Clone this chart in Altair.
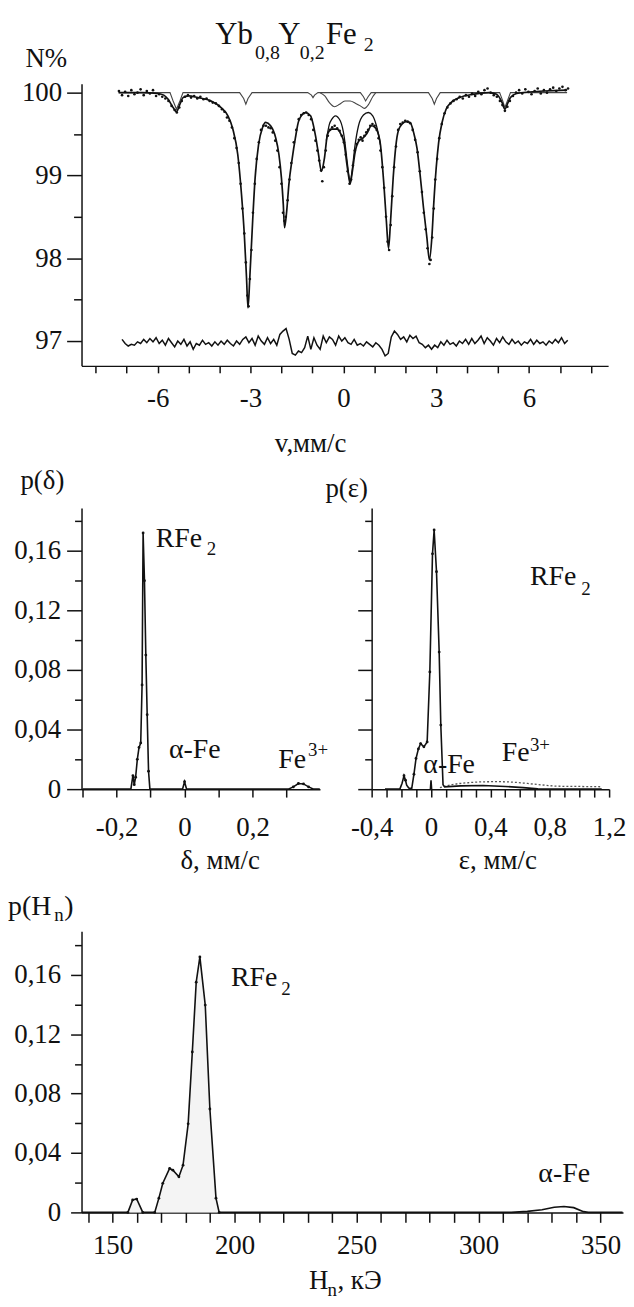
import altair as alt
import pandas as pd

FONT = "Liberation Serif"
INK = "#111111"

# ---------------- top panel: Mossbauer spectrum ----------------
FIT = [(-7.26, 100.0), (-6.5, 100.0), (-6.0, 99.99), (-5.8, 99.97), (-5.66, 99.92), (-5.5, 99.82),
       (-5.39, 99.77), (-5.28, 99.86), (-5.18, 99.94), (-5.0, 99.96), (-4.7, 99.94), (-4.27, 99.90),
       (-3.95, 99.82), (-3.73, 99.72), (-3.57, 99.56), (-3.41, 99.25), (-3.29, 98.77), (-3.20, 98.29),
       (-3.13, 97.78), (-3.08, 97.40), (-3.02, 97.78), (-2.93, 98.45), (-2.85, 98.97), (-2.74, 99.37),
       (-2.61, 99.58), (-2.51, 99.64), (-2.35, 99.60), (-2.19, 99.46), (-2.08, 99.25), (-2.00, 98.97),
       (-1.94, 98.65), (-1.90, 98.37), (-1.83, 98.57), (-1.76, 98.89), (-1.65, 99.21), (-1.55, 99.45),
       (-1.44, 99.66), (-1.22, 99.76), (-1.06, 99.72), (-0.90, 99.48), (-0.80, 99.25), (-0.71, 99.05),
       (-0.61, 99.21), (-0.51, 99.50), (-0.37, 99.56), (-0.21, 99.56), (-0.08, 99.50), (0.03, 99.38),
       (0.11, 99.15), (0.19, 98.95), (0.22, 98.90), (0.28, 99.02), (0.38, 99.28), (0.49, 99.41),
       (0.63, 99.45), (0.75, 99.50), (0.91, 99.60), (1.02, 99.58), (1.07, 99.56), (1.20, 99.37),
       (1.31, 98.89), (1.39, 98.45), (1.46, 98.12), (1.52, 98.41), (1.61, 98.97), (1.71, 99.40),
       (1.82, 99.58), (2.04, 99.65), (2.16, 99.64), (2.27, 99.52), (2.38, 99.33), (2.48, 99.01),
       (2.59, 98.61), (2.70, 98.25), (2.78, 97.98), (2.86, 98.25), (2.92, 98.65), (3.00, 99.09),
       (3.08, 99.40), (3.19, 99.64), (3.32, 99.80), (3.48, 99.88), (3.75, 99.94), (4.18, 99.98),
       (4.71, 100.0), (4.95, 99.98), (5.13, 99.88), (5.22, 99.80), (5.32, 99.88), (5.40, 99.94),
       (5.6, 99.99), (6.5, 100.02), (7.23, 100.03)]

RFE_PART = [(-0.55, 99.42), (-0.45, 99.62), (-0.37, 99.68), (-0.26, 99.72), (-0.10, 99.66),
            (0.03, 99.46), (0.11, 99.21), (0.19, 98.97), (0.22, 98.91), (0.28, 99.05), (0.38, 99.37),
            (0.49, 99.60), (0.65, 99.73), (0.81, 99.76), (0.95, 99.72), (1.07, 99.60), (1.20, 99.37)]

ALPHA_FE = [(-7.26, 100.0), (-5.6, 100.0), (-5.5, 99.9), (-5.39, 99.8), (-5.28, 99.9), (-5.18, 100.0),
            (-3.35, 100.0), (-3.22, 99.93), (-3.15, 99.86), (-3.08, 99.93), (-2.95, 100.0),
            (-1.15, 100.0), (-1.03, 99.97), (-0.98, 99.94), (-0.93, 99.97), (-0.82, 100.0),
            (0.55, 100.0), (0.65, 99.95), (0.72, 99.9), (0.80, 99.95), (0.9, 100.0),
            (2.75, 100.0), (2.87, 99.93), (2.94, 99.86), (3.01, 99.93), (3.13, 100.0),
            (5.05, 100.0), (5.15, 99.9), (5.22, 99.82), (5.30, 99.9), (5.40, 100.0), (7.23, 100.0)]

DOUBLET = [(-0.75, 100.0), (-0.6, 99.96), (-0.45, 99.88), (-0.28, 99.83), (-0.12, 99.86), (0.05, 99.9),
           (0.22, 99.9), (0.4, 99.87), (0.55, 99.84), (0.68, 99.81), (0.82, 99.86), (0.95, 99.95),
           (1.05, 100.0)]

DOTS = [(-7.25, 100.02), (-7.15, 99.97), (-7.05, 100.01), (-6.95, 99.96), (-6.85, 100.03), (-6.75, 99.98),
        (-6.65, 100.0), (-6.55, 100.04), (-6.45, 99.97), (-6.35, 100.02), (-6.25, 99.99), (-6.15, 100.03),
        (-6.05, 99.96), (-5.95, 99.98), (-5.85, 99.95), (-5.75, 99.93), (-5.65, 99.9), (-5.55, 99.84),
        (-5.45, 99.79), (-5.38, 99.76), (-5.3, 99.82), (-5.22, 99.9), (-5.12, 99.95), (-5.02, 99.97),
        (-4.92, 99.94), (-4.82, 99.96), (-4.72, 99.93), (-4.62, 99.95), (-4.52, 99.92), (-4.42, 99.93),
        (-4.32, 99.9), (-4.22, 99.88), (-4.12, 99.87), (-4.02, 99.84), (-3.92, 99.8), (-3.84, 99.77),
        (-3.76, 99.7), (-3.68, 99.66), (-3.6, 99.58), (-3.52, 99.45), (-3.45, 99.33), (-3.38, 99.15),
        (-3.32, 98.9), (-3.26, 98.6), (-3.2, 98.3), (-3.15, 97.95), (-3.1, 97.55), (-3.06, 97.42),
        (-3.02, 97.75), (-2.97, 98.1), (-2.92, 98.55), (-2.86, 98.9), (-2.8, 99.2), (-2.73, 99.4),
        (-2.66, 99.55), (-2.58, 99.6), (-2.5, 99.6), (-2.42, 99.58), (-2.35, 99.57), (-2.28, 99.52),
        (-2.2, 99.42), (-2.13, 99.3), (-2.06, 99.1), (-2.0, 98.9), (-1.95, 98.55), (-1.9, 98.45),
        (-1.86, 98.5), (-1.8, 98.7), (-1.74, 98.95), (-1.68, 99.15), (-1.6, 99.4), (-1.52, 99.55),
        (-1.44, 99.68), (-1.36, 99.73), (-1.28, 99.75), (-1.2, 99.76), (-1.12, 99.73), (-1.04, 99.68),
        (-0.97, 99.55), (-0.9, 99.42), (-0.84, 99.3), (-0.78, 99.18), (-0.72, 99.06), (-0.68, 98.93),
        (-0.63, 99.1), (-0.57, 99.3), (-0.5, 99.48), (-0.43, 99.55), (-0.36, 99.58), (-0.28, 99.6),
        (-0.2, 99.57), (-0.12, 99.54), (-0.05, 99.48), (0.02, 99.4), (0.08, 99.25), (0.14, 99.05),
        (0.2, 98.9), (0.25, 98.95), (0.31, 99.12), (0.37, 99.3), (0.44, 99.38), (0.5, 99.43),
        (0.56, 99.46), (0.62, 99.42), (0.68, 99.48), (0.74, 99.52), (0.8, 99.55), (0.87, 99.6),
        (0.94, 99.62), (1.01, 99.6), (1.08, 99.55), (1.14, 99.45), (1.2, 99.3), (1.26, 99.1),
        (1.32, 98.85), (1.38, 98.5), (1.43, 98.2), (1.48, 98.1), (1.53, 98.4), (1.58, 98.75),
        (1.64, 99.1), (1.7, 99.35), (1.77, 99.55), (1.84, 99.62), (1.92, 99.64), (2.0, 99.66),
        (2.08, 99.65), (2.16, 99.63), (2.24, 99.55), (2.32, 99.43), (2.4, 99.28), (2.47, 99.05),
        (2.54, 98.8), (2.6, 98.55), (2.66, 98.35), (2.72, 98.12), (2.78, 97.93), (2.82, 97.98),
        (2.87, 98.25), (2.92, 98.6), (2.97, 98.95), (3.03, 99.2), (3.1, 99.45), (3.18, 99.62),
        (3.27, 99.75), (3.36, 99.82), (3.46, 99.87), (3.56, 99.9), (3.66, 99.92), (3.76, 99.95),
        (3.86, 99.93), (3.96, 99.97), (4.06, 99.95), (4.16, 99.99), (4.26, 99.96), (4.36, 100.01),
        (4.46, 99.98), (4.56, 100.03), (4.66, 100.05), (4.76, 100.0), (4.86, 99.97), (4.96, 99.95),
        (5.06, 99.9), (5.14, 99.85), (5.22, 99.78), (5.3, 99.83), (5.38, 99.9), (5.48, 99.96),
        (5.58, 100.0), (5.68, 100.03), (5.78, 99.99), (5.88, 100.04), (5.98, 100.01), (6.08, 99.98),
        (6.18, 100.02), (6.28, 100.05), (6.38, 99.99), (6.48, 100.03), (6.58, 100.0), (6.68, 100.04),
        (6.78, 100.06), (6.88, 100.02), (6.98, 100.05), (7.08, 100.07), (7.18, 100.03), (7.26, 100.05)]

RESID = [(-7.15, 97.02), (-7.05, 96.97), (-6.95, 96.94), (-6.85, 96.96), (-6.75, 96.95), (-6.65, 96.99),
         (-6.55, 96.97), (-6.45, 97.02), (-6.35, 96.98), (-6.25, 97.03), (-6.15, 96.99), (-6.05, 97.04),
         (-5.95, 96.97), (-5.85, 97.01), (-5.75, 96.95), (-5.65, 97.03), (-5.55, 96.98), (-5.45, 96.93),
         (-5.35, 97.0), (-5.25, 96.96), (-5.15, 97.02), (-5.05, 96.94), (-4.95, 96.99), (-4.85, 96.9),
         (-4.75, 96.97), (-4.65, 96.95), (-4.55, 97.01), (-4.45, 96.96), (-4.35, 96.98), (-4.25, 96.94),
         (-4.15, 96.99), (-4.05, 96.95), (-3.95, 97.0), (-3.85, 96.96), (-3.75, 97.01), (-3.65, 96.97),
         (-3.55, 96.94), (-3.45, 97.0), (-3.35, 96.96), (-3.25, 97.02), (-3.15, 97.05), (-3.05, 96.98),
         (-2.95, 97.03), (-2.85, 96.95), (-2.75, 97.06), (-2.65, 97.0), (-2.55, 96.96), (-2.45, 97.04),
         (-2.35, 96.97), (-2.25, 97.02), (-2.15, 96.95), (-2.05, 97.08), (-1.95, 97.12), (-1.85, 97.15),
         (-1.75, 97.02), (-1.65, 96.85), (-1.55, 96.83), (-1.45, 96.88), (-1.35, 96.86), (-1.25, 96.92),
         (-1.15, 97.06), (-1.05, 96.9), (-0.95, 97.04), (-0.85, 96.95), (-0.75, 96.9), (-0.65, 97.06),
         (-0.55, 96.98), (-0.45, 97.05), (-0.35, 97.02), (-0.25, 96.95), (-0.15, 97.06), (-0.05, 97.0),
         (0.05, 97.04), (0.15, 96.98), (0.25, 96.96), (0.35, 97.02), (0.45, 96.95), (0.55, 96.97),
         (0.65, 96.94), (0.75, 96.99), (0.85, 96.96), (0.95, 96.93), (1.05, 96.98), (1.15, 96.95),
         (1.25, 96.9), (1.35, 96.82), (1.45, 96.85), (1.55, 97.05), (1.65, 97.12), (1.75, 97.08),
         (1.85, 97.02), (1.95, 97.05), (2.05, 96.99), (2.15, 97.07), (2.25, 97.03), (2.35, 97.06),
         (2.45, 96.98), (2.55, 96.96), (2.65, 96.92), (2.75, 96.95), (2.85, 96.9), (2.95, 96.95),
         (3.05, 96.92), (3.15, 96.99), (3.25, 96.95), (3.35, 97.01), (3.45, 96.96), (3.55, 96.98),
         (3.65, 96.94), (3.75, 97.0), (3.85, 96.97), (3.95, 97.02), (4.05, 96.96), (4.15, 97.03),
         (4.25, 96.97), (4.35, 97.01), (4.45, 97.06), (4.55, 96.97), (4.65, 97.04), (4.75, 97.0),
         (4.85, 96.95), (4.95, 97.03), (5.05, 96.98), (5.15, 97.05), (5.25, 96.99), (5.35, 96.96),
         (5.45, 97.02), (5.55, 96.97), (5.65, 97.0), (5.75, 96.95), (5.85, 96.99), (5.95, 96.97),
         (6.05, 97.02), (6.15, 96.96), (6.25, 97.01), (6.35, 96.97), (6.45, 96.99), (6.55, 96.95),
         (6.65, 97.0), (6.75, 96.97), (6.85, 97.02), (6.95, 96.98), (7.05, 97.04), (7.15, 96.97),
         (7.25, 97.01)]

V_TICKS = [-8, -7, -6, -5, -4, -3, -2, -1, 0, 1, 2, 3, 4, 5, 6, 7, 8]
N_TICKS = [97, 97.5, 98, 98.5, 99, 99.5, 100]

# ---------------- middle panels: p(delta), p(eps) ----------------
P_DELTA = [(-0.30, 0.0), (-0.158, 0.0), (-0.152, 0.009), (-0.148, 0.003), (-0.144, 0.008),
           (-0.139, 0.020), (-0.134, 0.028), (-0.129, 0.031), (-0.125, 0.07), (-0.122, 0.172),
           (-0.118, 0.14), (-0.114, 0.09), (-0.110, 0.05), (-0.106, 0.012), (-0.102, 0.0),
           (-0.006, 0.0), (0.0, 0.005), (0.006, 0.0), (0.305, 0.0), (0.32, 0.0015), (0.335, 0.0038),
           (0.35, 0.0035), (0.365, 0.0015), (0.38, 0.0), (0.398, 0.0)]
DELTA_TICKS = [-0.3, -0.2, -0.1, 0.0, 0.1, 0.2, 0.3, 0.4]

P_EPS = [(-0.31, 0.0), (-0.21, 0.0), (-0.195, 0.004), (-0.182, 0.009), (-0.172, 0.006), (-0.164, 0.0027),
         (-0.15, 0.0008), (-0.13, 0.0004), (-0.115, 0.01), (-0.101, 0.0206), (-0.085, 0.027),
         (-0.070, 0.0306), (-0.048, 0.0284), (-0.026, 0.0317), (-0.008, 0.0787), (0.010, 0.158),
         (0.021, 0.174), (0.037, 0.146), (0.055, 0.092), (0.066, 0.043), (0.081, 0.003), (0.092, 0.0015),
         (0.2, 0.0022), (0.35, 0.0024), (0.5, 0.0018), (0.62, 0.001), (0.72, 0.0002), (1.15, 0.0)]
EPS_ALPHA = [(-0.004, 0.0), (0.0, 0.006), (0.004, 0.0)]
EPS_FE3 = [(0.06, 0.001), (0.15, 0.0032), (0.25, 0.0043), (0.35, 0.0049), (0.45, 0.005), (0.55, 0.0047),
           (0.65, 0.0038), (0.75, 0.0028), (0.85, 0.002), (1.0, 0.0018), (1.15, 0.0016)]
EPS_TICKS = [-0.4, -0.3, -0.2, -0.1, 0.0, 0.1, 0.2, 0.3, 0.4, 0.5, 0.6, 0.7, 0.8, 0.9, 1.0, 1.1, 1.2]
P_TICKS = [0.0, 0.02, 0.04, 0.06, 0.08, 0.10, 0.12, 0.14, 0.16, 0.18]

# ---------------- bottom panel: p(Hn) ----------------
P_HN = [(137.5, 0.0), (156.3, 0.0), (158.25, 0.0084), (159.9, 0.009), (162.4, 0.0), (167.3, 0.0),
        (169.0, 0.0096), (170.6, 0.0196), (173.4, 0.0296), (174.75, 0.0284), (177.2, 0.024),
        (178.9, 0.0318), (181.0, 0.0596), (182.7, 0.108), (184.3, 0.155), (185.8, 0.172),
        (188.0, 0.1396), (189.9, 0.0696), (192.4, 0.0096), (193.7, 0.0), (313.4, 0.0), (320, 0.0007),
        (326, 0.0018), (331, 0.0035), (335, 0.004), (339, 0.0032), (343, 0.0005), (345, 0.0),
        (359, 0.0)]
HN_TICKS = [140, 150, 160, 170, 180, 190, 200, 210, 220, 230, 240, 250, 260, 270, 280, 290,
            300, 310, 320, 330, 340, 350]

ONE = pd.DataFrame({"k": [0]})


def frame(pairs, a, b):
    return pd.DataFrame(pairs, columns=[a, b])


COMMON = dict(labelFont=FONT, labelFontSize=27, labelColor=INK, titleFont=FONT, titleFontSize=27,
              titleFontWeight="normal", titleColor=INK, domainColor=INK, domainWidth=1.5,
              tickColor=INK, tickWidth=1.5, grid=False, labelOverlap=False, labelFlush=False)


def txt(s, x, y, size=28):
    return alt.Chart(ONE).mark_text(text=s, font=FONT, fontSize=size, align="left",
                                    baseline="alphabetic", color=INK).encode(
        x=alt.value(x), y=alt.value(y))


def comma_expr(step10_mod, dec):
    return ("round(datum.value*10) % " + str(step10_mod) + " !== 0 ? '' : "
            "(round(datum.value*10) === 0 ? '0' : (datum.value < 0 ? '-' : '') + "
            "replace(format(abs(datum.value), '." + str(dec) + "f'), '.', ','))")


P_LABELS = ("round(datum.value*100) % 4 !== 0 ? '' : (datum.value === 0 ? '0' : "
            "replace(format(datum.value, '.2f'), '.', ','))")


def p_tick(major, minor):
    return {"condition": {"test": "round(datum.value*100) % 4 === 0", "value": major}, "value": minor}


# ---------- top ----------
xs_top = alt.Scale(domain=[-8.459, 8.555], nice=False, zero=False)
ys_top = alt.Scale(domain=[96.70, 100.108], nice=False, zero=False)
ax_top_x = alt.Axis(values=V_TICKS, tickSize=7, labelPadding=13,
                    labelExpr="datum.value % 3 === 0 ? (datum.value < 0 ? '-' + abs(datum.value) : '' + datum.value) : ''",
                    title="v,мм/с", titleX=230, titleY=86, titleAlign="center",
                    titleBaseline="alphabetic", **COMMON)
ax_top_y = alt.Axis(values=N_TICKS,
                    tickSize={"condition": {"test": "datum.value % 1 === 0", "value": 15}, "value": 8},
                    labelPadding=5, labelExpr="datum.value % 1 === 0 ? '' + datum.value : ''",
                    title="N%", titleAngle=0, titleX=-57, titleY=-17, titleAlign="left",
                    titleBaseline="alphabetic", **COMMON)
enc_top = dict(x=alt.X("v:Q", scale=xs_top, axis=ax_top_x), y=alt.Y("N:Q", scale=ys_top, axis=ax_top_y))

top = alt.layer(
    alt.Chart(frame(ALPHA_FE, "v", "N")).mark_line(color="#444444", strokeWidth=1.1).encode(**enc_top),
    alt.Chart(frame(DOUBLET, "v", "N")).mark_line(color="#444444", strokeWidth=1.1,
                                                  interpolate="monotone").encode(**enc_top),
    alt.Chart(frame(RFE_PART, "v", "N")).mark_line(color=INK, strokeWidth=1.3,
                                                   interpolate="monotone").encode(**enc_top),
    alt.Chart(frame(FIT, "v", "N")).mark_line(color=INK, strokeWidth=1.7,
                                              interpolate="monotone").encode(**enc_top),
    alt.Chart(frame(DOTS, "v", "N")).mark_circle(color=INK, size=7, opacity=1).encode(**enc_top),
    alt.Chart(frame(RESID, "v", "N")).mark_line(color=INK, strokeWidth=1.5).encode(**enc_top),
    txt("Yb", 134.7, -40, 31), txt("0,8", 174.7, -25, 20), txt("Y", 198, -40, 31),
    txt("0,2", 219.7, -25, 20), txt("Fe", 246, -40, 31), txt("2", 284, -33, 20),
    alt.Chart(ONE).mark_rule(strokeOpacity=0, strokeWidth=1).encode(
        x=alt.value(-74), x2=alt.value(-73), y=alt.value(-72), y2=alt.value(-72)),
).properties(width=530, height=284)

# ---------- middle left ----------
ys_mid = alt.Scale(domain=[0, 0.1888], nice=False, zero=False)
ax_ml_x = alt.Axis(values=DELTA_TICKS, tickSize=8, labelPadding=18, labelExpr=comma_expr(2, 1),
                   title="δ, мм/с", titleX=139, titleY=80, titleAlign="center",
                   titleBaseline="alphabetic", **COMMON)
ax_ml_y = alt.Axis(values=P_TICKS, tickSize=p_tick(15, 7), labelPadding=6, labelExpr=P_LABELS,
                   title="p(δ)", titleAngle=0, titleX=-62, titleY=-20, titleAlign="left",
                   titleBaseline="alphabetic", **COMMON)
enc_ml = dict(x=alt.X("d:Q", scale=alt.Scale(domain=[-0.3032, 0.3985], nice=False, zero=False), axis=ax_ml_x),
              y=alt.Y("p:Q", scale=ys_mid, axis=ax_ml_y))
mid_left = alt.layer(
    alt.Chart(frame(P_DELTA, "d", "p")).mark_line(color=INK, strokeWidth=1.6).encode(**enc_ml),
    alt.Chart(frame(P_DELTA, "d", "p")).transform_filter("datum.p > 0").mark_circle(
        color=INK, size=8, opacity=1).encode(**enc_ml),
    txt("RFe", 74.7, 39), txt("2", 126, 47, 19),
    txt("α-Fe", 88, 251.3),
    txt("Fe", 198, 261.3), txt("3+", 228, 249.5, 19),
).properties(width=240, height=283)

# ---------- middle right ----------
ax_mr_x = alt.Axis(values=EPS_TICKS, tickSize=8, labelPadding=18, labelExpr=comma_expr(4, 1),
                   title="ε, мм/с", titleX=126.5, titleY=80, titleAlign="center",
                   titleBaseline="alphabetic", **COMMON)
ax_mr_y = alt.Axis(values=P_TICKS, tickSize=p_tick(14, 7), labels=False,
                   title="p(ε)", titleAngle=0, titleX=-47, titleY=-12, titleAlign="left",
                   titleBaseline="alphabetic", **COMMON)
enc_mr = dict(x=alt.X("e:Q", scale=alt.Scale(domain=[-0.4, 1.2], nice=False, zero=False), axis=ax_mr_x),
              y=alt.Y("p:Q", scale=ys_mid, axis=ax_mr_y))
mid_right = alt.layer(
    alt.Chart(frame(EPS_FE3, "e", "p")).mark_line(color="#555555", strokeWidth=1.3,
                                                  strokeDash=[2, 2], interpolate="monotone").encode(**enc_mr),
    alt.Chart(frame(P_EPS, "e", "p")).mark_line(color=INK, strokeWidth=1.6).encode(**enc_mr),
    alt.Chart(frame(EPS_ALPHA, "e", "p")).mark_line(color=INK, strokeWidth=1.6).encode(**enc_mr),
    alt.Chart(frame(P_EPS, "e", "p")).transform_filter("datum.p > 0.004").mark_circle(
        color=INK, size=8, opacity=1).encode(**enc_mr),
    txt("RFe", 159.3, 78), txt("2", 211, 88, 19),
    txt("α-Fe", 52, 266.3),
    txt("Fe", 131, 254.7), txt("3+", 159.3, 244.7, 19),
).properties(width=239, height=283)

# ---------- bottom ----------
ax_b_x = alt.Axis(values=HN_TICKS, tickSize=10, labelPadding=10,
                  labelExpr="datum.value % 50 === 0 ? '' + datum.value : ''", title=None, **COMMON)
ax_b_y = alt.Axis(values=P_TICKS, tickSize=p_tick(11, 7), labelPadding=10, labelExpr=P_LABELS,
                  title=None, **COMMON)
enc_b = dict(x=alt.X("H:Q", scale=alt.Scale(domain=[137.3, 359.2], nice=False, zero=False), axis=ax_b_x),
             y=alt.Y("p:Q", scale=alt.Scale(domain=[0, 0.1893], nice=False, zero=False), axis=ax_b_y))
bottom = alt.layer(
    alt.Chart(frame(P_HN, "H", "p")).transform_filter("datum.H > 150 && datum.H < 200").mark_area(
        color="#f4f4f4", interpolate="linear").encode(**enc_b),
    alt.Chart(frame(P_HN, "H", "p")).mark_line(color=INK, strokeWidth=1.6).encode(**enc_b),
    alt.Chart(frame(P_HN, "H", "p")).transform_filter("datum.H > 156 && datum.H < 194").mark_circle(
        color=INK, size=8, opacity=1).encode(**enc_b),
    txt("p(H", -74, -16), txt("n", -27.4, -10, 19), txt(")", -17.3, -16),
    txt("RFe", 150.5, 55.3), txt("2", 201, 63.7, 19),
    txt("α-Fe", 459.8, 252),
    txt("H", 229, 360.3, 27), txt("n", 247.5, 367, 19), txt(", кЭ", 257.6, 360.3, 27),
).properties(width=545, height=283)

# invisible spacer so that the right column starts level with the left middle panel
spacer = alt.Chart(ONE).mark_point(opacity=0).encode(
    x=alt.value(0), y=alt.value(0)).properties(width=1, height=284)

left_col = alt.vconcat(top, mid_left, bottom, spacing=143, bounds="flush")
right_col = alt.vconcat(spacer, mid_right, spacing=143, bounds="flush")
chart = alt.hconcat(left_col, right_col, spacing=292, bounds="flush").properties(
    padding=0, background="white").configure_view(stroke=None)

chart.save("out.html", embed_options={"renderer": "svg", "actions": False})
